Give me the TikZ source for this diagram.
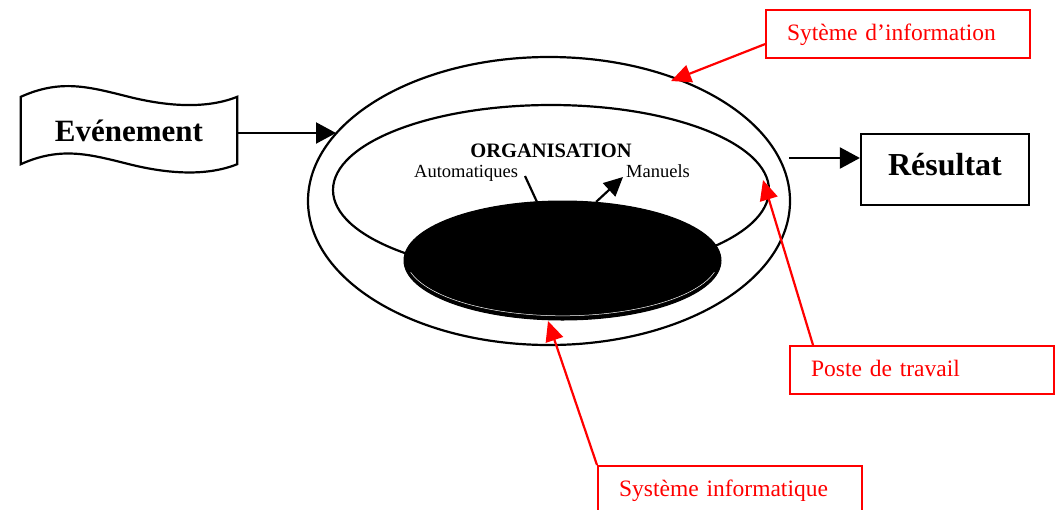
\documentclass[tikz,border=0pt]{standalone}
\usepackage{fontspec}
\setmainfont{Liberation Serif}
\usetikzlibrary{arrows.meta,shapes.geometric}
\begin{document}
\begin{tikzpicture}[x=1pt,y=-1pt,
  blk/.style={line width=2.2pt,draw=black},
  bigbold/.style={font=\fontsize{31}{37}\selectfont\bfseries},
  redbox/.style={draw=red,line width=2.2pt,text=red,font=\fontsize{23.5}{28}\selectfont,
     anchor=north west,minimum height=48pt,inner xsep=21pt,text width=222pt,align=left,
     text height=17pt,text depth=4pt},
  redarrow/.style={draw=red,line width=2.2pt,-{Triangle[length=20pt,width=18pt,fill=red]}},
  blkarrow/.style={draw=black,line width=2.2pt,-{Triangle[length=20pt,width=21pt]}},
  smalltxt/.style={font=\fontsize{18.5}{22}\selectfont,inner sep=0pt},
]
\useasboundingbox (0,0) rectangle (1056,509);
\clip (0,0) rectangle (1056,509);

% Evenement (punched tape shape)
\node[bigbold,minimum width=216pt,minimum height=67pt,inner sep=0pt] (ev) at (129,130.5) {Evénement};
\draw[blk,line join=miter] (ev.north west)
  .. controls ++(40,-18) and ++(-40,-10) .. ++(108,0)
  .. controls ++(40,10) and ++(-30,12) .. (ev.north east)
  -- (ev.south east)
  .. controls ++(-30,12) and ++(40,10) .. ++(-108,0)
  .. controls ++(-40,-10) and ++(40,-18) .. (ev.south west)
  -- cycle;

% ellipses
\node[ellipse,blk,minimum width=482pt,minimum height=288pt,inner sep=0pt] (outer) at (549,201) {};
\node[ellipse,blk,minimum width=436pt,minimum height=170pt,inner sep=0pt] (inner) at (551,190) {};
\node[ellipse,draw=black,fill=black,line width=1pt,minimum width=317pt,minimum height=119pt,inner sep=0pt] (core) at (562.5,260.5) {};
\draw[white,line width=0.5pt] (562.5,258.3) ++(14:156.5 and 57.5) arc[start angle=14,end angle=166,x radius=156.5,y radius=57.5];

% texts inside
\node[font=\fontsize{20.5}{24}\selectfont\bfseries,anchor=base,inner sep=0pt] (org) at (551,157) {ORGANISATION};
\node[smalltxt,anchor=base west] (auto) at (414,177) {Automatiques};
\node[smalltxt,anchor=base west] (man) at (626,177) {Manuels};
\coordinate (autoA) at (525,176);
\coordinate (autoB) at (537,202);
\draw[blk] (autoA) -- (autoB);
\coordinate (manA) at (596,202);
\coordinate (manB) at (623,177);
\draw[draw=black,line width=2.2pt,-{Triangle[length=19pt,width=18pt]}] (manA) -- (manB);

% Evenement arrow
\coordinate (evtip) at (336,133);
\draw[blkarrow] ([yshift=-2.5pt]ev.east) -- (evtip);

% Resultat
\node[blk,bigbold,font=\fontsize{32}{38}\selectfont\bfseries,minimum width=168pt,minimum height=71pt,
  text height=22pt,text depth=11pt,inner sep=0pt] (res) at (945,169.5) {Résultat};
\coordinate (resfrom) at (789,158);
\draw[blkarrow] (resfrom) -- ([yshift=11.5pt]res.west);

% red boxes
\node[redbox] (b1) at (765,9) {Sytème d’information};
\node[redbox] (b2) at (789,345) {Poste de travail};
\node[redbox] (b3) at (597,465) {Système informatique};

\coordinate (t1) at (671,81);
\coordinate (t2) at (763,180);
\coordinate (t3) at (548,321);
\draw[redarrow] ([yshift=-10pt]b1.west) -- (t1);
\draw[redarrow] ([xshift=24pt]b2.north west) -- (t2);
\draw[redarrow] (b3.north west) -- (t3);
\end{tikzpicture}
\end{document}
